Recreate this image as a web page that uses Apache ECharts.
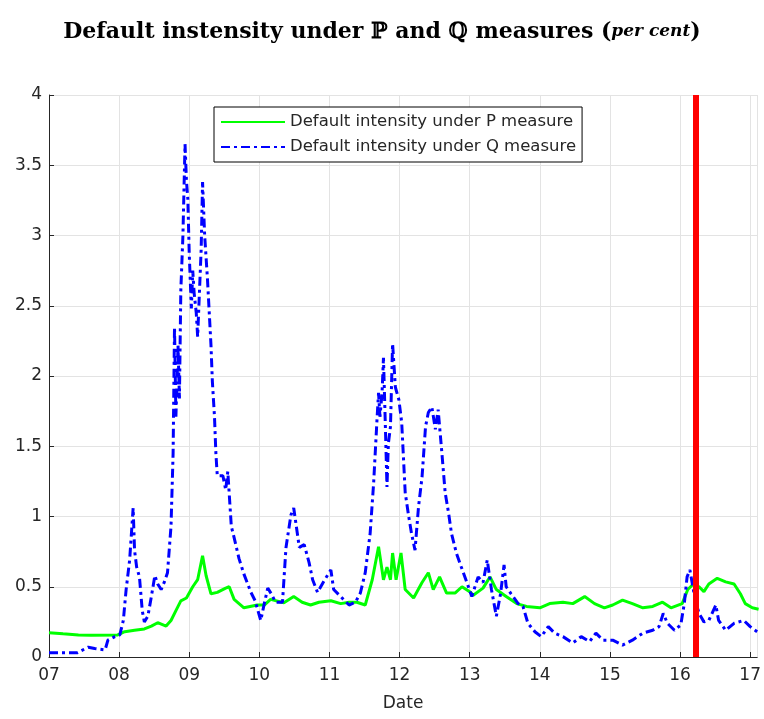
<!DOCTYPE html>
<html>
<head>
<meta charset="utf-8">
<script src="https://cdn.jsdelivr.net/npm/echarts@6/dist/echarts.min.js"></script>
<style>
html,body{margin:0;padding:0;background:#fff;}
#chart{width:764px;height:719px;}
</style>
</head>
<body>
<div id="chart"></div>
<script>
// Years expressed as 7 = 2007 ... 17 = 2017
var pYears = [7.0,7.2,7.42,7.6,7.98,8.08,8.22,8.36,8.46,8.55,8.67,8.74,8.81,8.88,8.96,9.05,9.12,9.19,9.24,9.31,9.40,9.52,9.57,9.64,9.78,9.97,10.07,10.16,10.35,10.49,10.61,10.73,10.85,11.02,11.16,11.28,11.39,11.51,11.61,11.70,11.77,11.82,11.87,11.90,11.95,12.02,12.08,12.20,12.32,12.41,12.48,12.57,12.67,12.79,12.89,13.00,13.05,13.19,13.29,13.38,13.52,13.67,13.81,14.00,14.14,14.33,14.47,14.64,14.78,14.92,15.04,15.18,15.32,15.47,15.61,15.75,15.87,16.03,16.11,16.19,16.27,16.34,16.41,16.53,16.65,16.77,16.86,16.93,17.03,17.12];
var pValues = [0.173,0.165,0.157,0.155,0.157,0.18,0.19,0.20,0.22,0.244,0.22,0.26,0.33,0.40,0.42,0.50,0.55,0.72,0.58,0.45,0.46,0.49,0.50,0.41,0.35,0.37,0.37,0.41,0.386,0.43,0.39,0.37,0.39,0.40,0.38,0.39,0.39,0.37,0.55,0.785,0.55,0.64,0.55,0.74,0.55,0.74,0.48,0.42,0.53,0.60,0.48,0.57,0.455,0.455,0.50,0.465,0.44,0.49,0.57,0.48,0.43,0.38,0.36,0.35,0.38,0.39,0.38,0.43,0.38,0.35,0.37,0.405,0.38,0.35,0.36,0.39,0.35,0.38,0.48,0.52,0.50,0.465,0.52,0.56,0.535,0.52,0.45,0.38,0.35,0.34];

var qYears = [7.0,7.2,7.4,7.56,7.65,7.80,7.84,7.94,8.01,8.06,8.10,8.15,8.20,8.22,8.25,8.29,8.33,8.36,8.41,8.46,8.51,8.55,8.60,8.65,8.69,8.74,8.77,8.79,8.81,8.84,8.86,8.88,8.91,8.94,8.96,8.98,9.00,9.03,9.05,9.07,9.10,9.12,9.17,9.19,9.22,9.26,9.31,9.33,9.36,9.38,9.40,9.48,9.52,9.55,9.60,9.64,9.71,9.78,9.88,9.94,10.02,10.07,10.12,10.17,10.23,10.33,10.38,10.45,10.49,10.57,10.64,10.71,10.76,10.83,10.92,11.02,11.06,11.16,11.28,11.37,11.44,11.51,11.58,11.63,11.68,11.70,11.72,11.75,11.77,11.80,11.82,11.84,11.87,11.90,11.94,11.99,12.03,12.08,12.13,12.17,12.22,12.27,12.32,12.37,12.41,12.46,12.51,12.55,12.60,12.65,12.70,12.74,12.81,12.88,12.96,13.03,13.12,13.19,13.25,13.31,13.38,13.44,13.49,13.52,13.59,13.69,13.76,13.83,13.93,14.02,14.12,14.21,14.33,14.47,14.59,14.71,14.80,14.90,15.04,15.18,15.32,15.47,15.61,15.70,15.76,15.82,15.92,16.01,16.06,16.10,16.14,16.20,16.27,16.34,16.41,16.51,16.55,16.65,16.77,16.91,17.00,17.10];
var qValues = [0.03,0.03,0.03,0.07,0.06,0.05,0.12,0.145,0.157,0.26,0.48,0.69,1.06,0.76,0.64,0.57,0.33,0.25,0.29,0.43,0.58,0.52,0.48,0.54,0.60,0.93,1.45,2.35,1.71,2.22,1.84,2.61,3.0,3.65,3.39,3.26,2.87,2.48,2.75,2.59,2.45,2.28,2.9,3.38,3.0,2.69,2.22,1.96,1.71,1.45,1.29,1.29,1.19,1.32,0.93,0.85,0.70,0.59,0.46,0.40,0.26,0.38,0.49,0.45,0.39,0.39,0.78,1.01,1.06,0.78,0.80,0.67,0.55,0.46,0.54,0.62,0.48,0.43,0.37,0.39,0.455,0.60,0.88,1.24,1.71,1.88,1.71,1.88,2.13,1.59,1.21,1.52,1.64,2.23,1.92,1.83,1.67,1.17,1.0,0.88,0.76,1.07,1.28,1.64,1.74,1.78,1.62,1.76,1.47,1.17,1.02,0.88,0.74,0.64,0.53,0.43,0.57,0.53,0.69,0.48,0.29,0.45,0.655,0.50,0.45,0.38,0.36,0.24,0.18,0.145,0.216,0.17,0.145,0.10,0.145,0.11,0.17,0.12,0.12,0.085,0.12,0.17,0.19,0.216,0.31,0.24,0.19,0.228,0.38,0.57,0.62,0.45,0.31,0.25,0.26,0.37,0.26,0.19,0.24,0.26,0.216,0.18];

var xTicks = ['07','08','09','10','11','12','13','14','15','16','17'];
var yTicks = ['0','0.5','1','1.5','2','2.5','3','3.5','4'];
var eventYear = 16.22;
var seriesNames = ['Default intensity under P measure','Default intensity under Q measure'];

function zip(a,b){var r=[];for(var i=0;i<a.length;i++){r.push([a[i],b[i]]);}return r;}

var chart = echarts.init(document.getElementById('chart'), null, {renderer:'canvas'});
var axisColor = '#262626';
var sans = 'DejaVu Sans';
chart.setOption({
  animation:false,
  backgroundColor:'#ffffff',
  title:{
    left:'center', top:16,
    text:'{b|Default instensity under ℙ and ℚ measures (}{i|per cent}{b|)}',
    textStyle:{
      rich:{
        b:{fontFamily:'DejaVu Serif',fontWeight:'bold',fontSize:22,color:'#000'},
        i:{fontFamily:'DejaVu Serif',fontWeight:'bold',fontStyle:'italic',fontSize:17,color:'#000'}
      }
    }
  },
  legend:{
    data:seriesNames,
    orient:'vertical',
    left:214, top:107,
    padding:[5,6,5,6],
    itemGap:5,
    itemWidth:64, itemHeight:14,
    borderColor:'#000', borderWidth:1,
    backgroundColor:'#fff',
    itemStyle:{color:'rgba(0,0,0,0)',borderWidth:0,opacity:0},
    textStyle:{fontFamily:sans,fontSize:16.5,color:axisColor,lineHeight:20}
  },
  grid:{left:49,right:4,top:95,bottom:62,containLabel:false},
  xAxis:{
    type:'value', min:7, max:17.1, interval:1,
    name:'Date', nameLocation:'middle', nameGap:38,
    nameTextStyle:{fontFamily:sans,fontSize:17,color:axisColor},
    axisLine:{show:true,onZero:false,lineStyle:{color:axisColor,width:1}},
    axisTick:{show:true,inside:true,length:5,lineStyle:{color:axisColor}},
    axisLabel:{fontFamily:sans,fontSize:17,color:axisColor,margin:10,
      showMaxLabel:false,
      formatter:function(v){var i=Math.round(v-7);return (Math.abs(v-Math.round(v))<1e-6 && xTicks[i]!==undefined)?xTicks[i]:'';}},
    splitLine:{show:true,lineStyle:{color:'#e3e3e3',width:1}}
  },
  yAxis:{
    type:'value', min:0, max:4, interval:0.5,
    axisLine:{show:true,lineStyle:{color:axisColor,width:1}},
    axisTick:{show:true,inside:true,length:5,lineStyle:{color:axisColor}},
    axisLabel:{fontFamily:sans,fontSize:17,color:axisColor,margin:7,
      formatter:function(v){var i=Math.round(v/0.5);return yTicks[i]!==undefined?yTicks[i]:'';}},
    splitLine:{show:true,lineStyle:{color:'#e3e3e3',width:1}}
  },
  series:[
    {name:seriesNames[0],type:'line',data:zip(pYears,pValues),showSymbol:false,symbol:'none',
     lineStyle:{color:'#00ff00',width:3},itemStyle:{color:'#00ff00'},z:2},
    {name:seriesNames[1],type:'line',data:zip(qYears,qValues),showSymbol:false,symbol:'none',
     lineStyle:{color:'#0000ff',width:3,type:[9,4,3,4]},itemStyle:{color:'#0000ff'},z:3},
    {name:'event',type:'line',data:[],z:5,
     markLine:{silent:true,symbol:['none','none'],label:{show:false},
       lineStyle:{color:'#ff0000',width:6,type:'solid'},
       data:[{xAxis:eventYear}]}}
  ]
});
</script>
</body>
</html>
